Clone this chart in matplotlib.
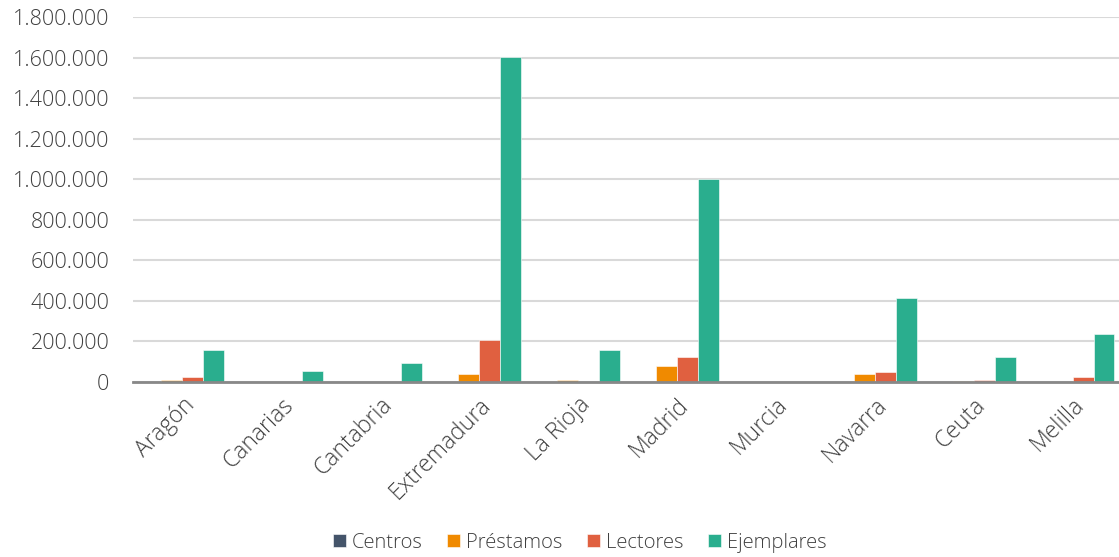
import matplotlib
matplotlib.use("Agg")
import matplotlib.pyplot as plt
import numpy as np
from matplotlib.ticker import FuncFormatter

categories = ["Aragón", "Canarias", "Cantabria", "Extremadura", "La Rioja",
              "Madrid", "Murcia", "Navarra", "Ceuta", "Melilla"]
centros = [120, 40, 60, 700, 30, 350, 20, 130, 20, 20]
prestamos = [11000, 0, 0, 38000, 11000, 79000, 0, 38000, 4000, 0]
lectores = [23000, 0, 0, 209000, 0, 124000, 0, 50000, 12000, 24000]
ejemplares = [158000, 56000, 94000, 1604000, 158000, 1000000, 0, 416000, 122000, 236000]

series = [("Centros", centros, "#44546A"),
          ("Préstamos", prestamos, "#F08A00"),
          ("Lectores", lectores, "#E06040"),
          ("Ejemplares", ejemplares, "#2AAE8E")]

plt.rcParams['font.family'] = ['Open Sans', 'DejaVu Sans']
plt.rcParams['font.weight'] = 'light'

fig = plt.figure(figsize=(11.19, 5.57), dpi=100)
ax = fig.add_axes([133/1119, 1 - 382/557, (1122-133)/1119, (382-17)/557])

x = np.arange(len(categories))
w = 0.212
for i, (name, vals, col) in enumerate(series):
    ax.bar(x + (i - 1.5) * w, vals, width=w, color=col, label=name,
           edgecolor="white", linewidth=0.4, zorder=3)

ax.set_xlim(-0.5, len(categories) - 0.5)
ax.set_ylim(0, 1800000)
ax.set_yticks(np.arange(0, 1800001, 200000))
ax.yaxis.set_major_formatter(FuncFormatter(lambda v, p: f"{int(v):,}".replace(",", ".")))
ax.grid(axis="y", color="#D9D9D9", linewidth=1.5, zorder=0)
for s in ["top", "right", "left"]:
    ax.spines[s].set_visible(False)
ax.spines["bottom"].set_color("#888888")
ax.spines["bottom"].set_linewidth(2)
ax.spines["bottom"].set_zorder(4)
ax.tick_params(axis="y", length=0, labelsize=15.5, labelcolor="#404040", pad=17)
ax.tick_params(axis="x", length=0, labelsize=16.5, labelcolor="#404040", pad=8)
ax.set_xticks(x)
ax.set_xticklabels(categories, rotation=45, ha="right", rotation_mode="anchor")

fig.legend(loc="lower center", bbox_to_anchor=(0.518, -0.025), ncol=4, frameon=False,
           fontsize=14.5, handlelength=0.65, handleheight=0.65, handletextpad=0.3,
           columnspacing=1.2, labelcolor="#404040")

fig.savefig("out.png", dpi=100)
